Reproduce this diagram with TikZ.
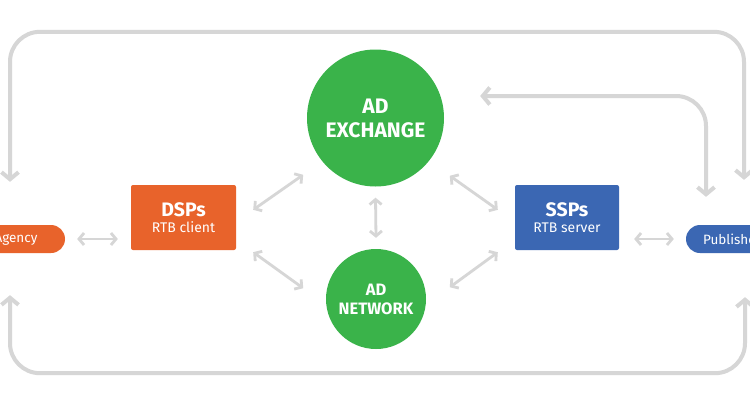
\documentclass[tikz,border=0pt]{standalone}
\usepackage{fontspec}
\setmainfont{Fira Sans}
\usetikzlibrary{arrows.meta,calc}
\definecolor{orng}{HTML}{E8632B}
\definecolor{blu}{HTML}{3B67B3}
\definecolor{grn}{HTML}{3AB34A}
\definecolor{arr}{HTML}{D6D6D6}
\begin{document}
\begin{tikzpicture}[x=1pt,y=-1pt,
  bigloop/.style={draw=arr,line width=4pt,rounded corners=30pt,
    {Straight Barb[length=7pt,width=17pt]}-{Straight Barb[length=7pt,width=17pt]}},
  link/.style={draw=arr,line width=2.8pt,
    {Straight Barb[length=5pt,width=12pt]}-{Straight Barb[length=5pt,width=12pt]}},
  pill/.style={rounded corners=14pt,minimum height=28pt,inner sep=0pt,text=white,
    font=\fontsize{13.5}{16}\selectfont},
  boxnode/.style={rounded corners=2pt,minimum width=105pt,minimum height=65pt,inner sep=0pt,
    text=white,align=center,font=\fontsize{14}{16}\selectfont},
  bigcirc/.style={circle,fill=grn,inner sep=0pt,text=white,align=center}]
\clip (0,0) rectangle (750,400);
\fill[white] (0,0) rectangle (750,400);

% nodes
\node[pill,fill=orng,minimum width=98pt] (agency) at (16,239) {Agency};
\node[pill,fill=blu,minimum width=92pt] (publisher) at (732,239) {Publisher};
\node[boxnode,fill=orng] (dsp) at (183.5,217.5)
  {{\fontsize{19.5}{19}\selectfont\bfseries DSPs}\\RTB client};
\node[boxnode,fill=blu,minimum width=104pt] (ssp) at (567,217.5)
  {{\fontsize{19.5}{19}\selectfont\bfseries SSPs}\\RTB server};
\node[bigcirc,minimum size=137pt,font=\bfseries\fontsize{21}{24}\selectfont] (adx) at (375.5,118)
  {AD\\EXCHANGE};
\node[bigcirc,minimum size=100pt,font=\bfseries\fontsize{16.5}{19}\selectfont] (adn) at (376,299)
  {AD\\NETWORK};

% loop end points
\coordinate (agtop) at ($(agency.north)+(-6,-43)$);
\coordinate (pubtop) at ($(publisher.north)+(12,-45)$);
\coordinate (pubin) at ($(publisher.north)+(-26,-28)$);
\coordinate (adxin) at ($(adx.east)+(36,-22)$);
\coordinate (agbot) at ($(agency.south)+(-6,42)$);
\coordinate (pubbot) at ($(publisher.south)+(13,44)$);

% loops
\draw[bigloop] (agtop) -- ++(0,-150) -| (pubtop);
\draw[bigloop] (pubin) |- (adxin);
\draw[bigloop] (agbot) -- ++(0,78) -| (pubbot);

% links
\draw[link] ($(agency.east)+(12,0)$) -- ($(agency.east -| dsp.west)+(-13,0)$);
\draw[link] ($(publisher.west -| ssp.east)+(15,0)$) -- ($(publisher.west)+(-12,0)$);
\draw[link] ($(adx.south)+(0,11)$) -- ($(adn.north)+(0,-11)$);
\draw[link] ($(dsp.north east)+(17,25)$) -- ($(dsp.north east)+(67,-10)$);
\draw[link] ($(dsp.south east)+(17,2)$) -- ($(dsp.south east)+(67,38)$);
\draw[link] ($(ssp.north west)+(-65,-9)$) -- ($(ssp.north west)+(-17,25)$);
\draw[link] ($(ssp.south west)+(-65,37)$) -- ($(ssp.south west)+(-17,2)$);
\end{tikzpicture}
\end{document}
